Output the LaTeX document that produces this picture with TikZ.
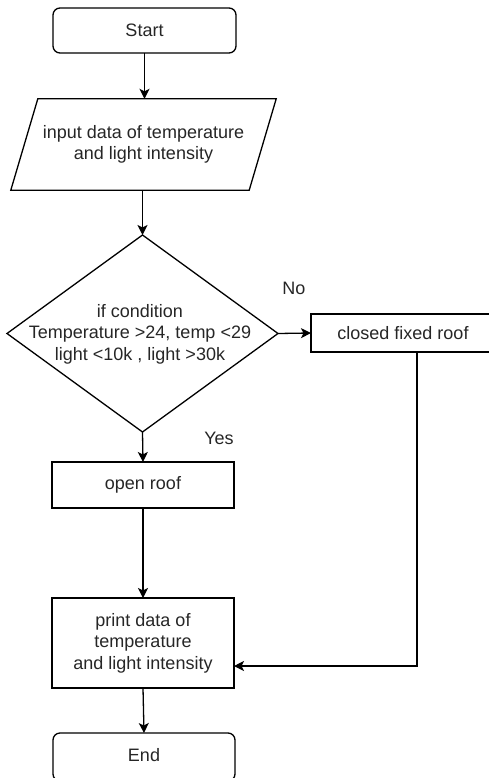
\documentclass[tikz,border=0pt]{standalone}
\usepackage{fontspec}
\setmainfont{Liberation Sans}
\usetikzlibrary{shapes.geometric,arrows.meta}
\begin{document}
\begin{tikzpicture}[x=1pt,y=-1pt,
  font=\fontsize{18}{21.5}\selectfont,
  box/.style={draw, line width=1.3pt, outer sep=0pt, inner sep=0pt, text=black!85},
  term/.style={box, rounded corners=7pt},
  arr/.style={line width=1.3pt, -{Stealth[length=10pt,width=10pt,inset=2.5pt]}},
  lbl/.style={inner sep=0pt, text=black!85, align=center}]
\useasboundingbox (0,0) rectangle (489,778);
\clip (0,0) rectangle (489,778);
% nodes
\node[term, minimum width=183, minimum height=45] (start) at (144.5,30.5) {Start};
\node[lbl, minimum width=211, minimum height=91] (inp) at (143.5,144.5) {input data of temperature\\and light intensity};
\draw[line width=1.3pt] ([xshift=27pt]inp.north east) -- (inp.south east) -- ([xshift=-27pt]inp.south west) -- (inp.north west) -- cycle;
\node[diamond, draw, line width=1.3pt, outer sep=0pt, inner sep=0pt, minimum width=271, minimum height=197] (dec) at (142.5,333.5) {};
\node[lbl] (dectxt) at (140,334) {if condition\\Temperature >24, temp <29\\light <10k , light >30k};
\node[box, minimum width=184, minimum height=38] (closed) at (403,333) {closed fixed roof};
\node[box, minimum width=182, minimum height=46] (open) at (143,485) {open roof};
\node[box, minimum width=182, minimum height=90, align=center] (print) at (143,643) {print data of\\temperature\\and light intensity};
\node[term, minimum width=182, minimum height=48] (end) at (144,757) {};
\node[lbl] (endtxt) at (144,755) {End};
\node[lbl] (no) at (294,288.5) {No};
\node[lbl] (yes) at (219,438) {Yes};
% connectors
\draw[arr] (start.south) -- (start.south |- inp.north);
\draw[arr] (inp.south -| dec.north) -- (dec.north);
\draw[arr] (dec.east) -- (closed.west);
\draw[arr] (dec.south) -- (open.north);
\draw[arr] (open.south) -- (print.north);
\draw[arr] ([xshift=14pt]closed.south) |- ([yshift=-23pt]print.east);
\draw[arr] (print.south) -- (end.north);
\end{tikzpicture}
\end{document}
